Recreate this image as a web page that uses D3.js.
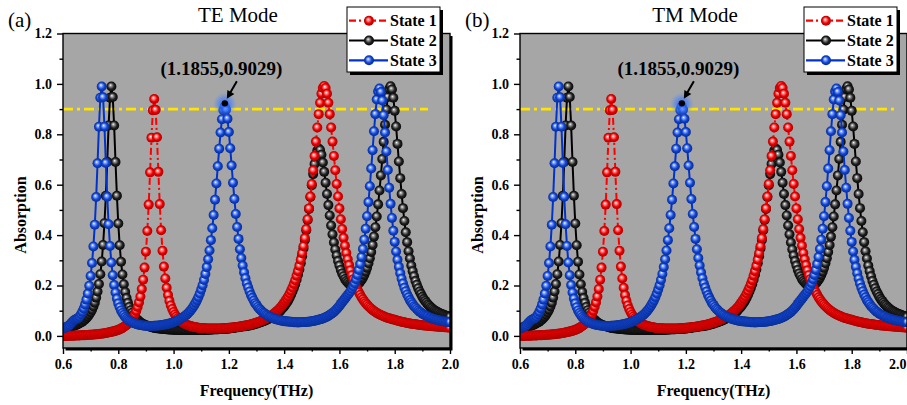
<!DOCTYPE html>
<html><head><meta charset="utf-8">
<script src="https://cdn.jsdelivr.net/npm/d3@7"></script>
<style>body{margin:0;background:#fff}svg{display:block}</style>
</head><body>
<svg id="c" width="907" height="405"></svg>
<script>
// ---------------- data ----------------
const freq = [
0.600,0.605,0.610,0.615,0.620,0.625,0.630,0.635,0.640,0.645,0.650,0.655,0.660,0.665,0.670,0.675,0.680,0.685,0.690,0.695,
0.700,0.705,0.710,0.715,0.720,0.725,0.730,0.735,0.740,0.745,0.750,0.755,0.760,0.765,0.770,0.775,0.780,0.785,0.790,0.795,
0.800,0.805,0.810,0.815,0.820,0.825,0.830,0.835,0.840,0.845,0.850,0.855,0.860,0.865,0.870,0.875,0.880,0.885,0.890,0.895,
0.900,0.905,0.910,0.915,0.920,0.925,0.930,0.935,0.940,0.945,0.950,0.955,0.960,0.965,0.970,0.975,0.980,0.985,0.990,0.995,
1.000,1.005,1.010,1.015,1.020,1.025,1.030,1.035,1.040,1.045,1.050,1.055,1.060,1.065,1.070,1.075,1.080,1.085,1.090,1.095,
1.100,1.105,1.110,1.115,1.120,1.125,1.130,1.135,1.140,1.145,1.150,1.155,1.160,1.165,1.170,1.175,1.180,1.185,1.190,1.195,
1.200,1.205,1.210,1.215,1.220,1.225,1.230,1.235,1.240,1.245,1.250,1.255,1.260,1.265,1.270,1.275,1.280,1.285,1.290,1.295,
1.300,1.305,1.310,1.315,1.320,1.325,1.330,1.335,1.340,1.345,1.350,1.355,1.360,1.365,1.370,1.375,1.380,1.385,1.390,1.395,
1.400,1.405,1.410,1.415,1.420,1.425,1.430,1.435,1.440,1.445,1.450,1.455,1.460,1.465,1.470,1.475,1.480,1.485,1.490,1.495,
1.500,1.505,1.510,1.515,1.520,1.525,1.530,1.535,1.540,1.545,1.550,1.555,1.560,1.565,1.570,1.575,1.580,1.585,1.590,1.595,
1.600,1.605,1.610,1.615,1.620,1.625,1.630,1.635,1.640,1.645,1.650,1.655,1.660,1.665,1.670,1.675,1.680,1.685,1.690,1.695,
1.700,1.705,1.710,1.715,1.720,1.725,1.730,1.735,1.740,1.745,1.750,1.755,1.760,1.765,1.770,1.775,1.780,1.785,1.790,1.795,
1.800,1.805,1.810,1.815,1.820,1.825,1.830,1.835,1.840,1.845,1.850,1.855,1.860,1.865,1.870,1.875,1.880,1.885,1.890,1.895,
1.900,1.905,1.910,1.915,1.920,1.925,1.930,1.935,1.940,1.945,1.950,1.955,1.960,1.965,1.970,1.975,1.980,1.985,1.990,1.995,
2.000];

// State 1 (red, dash-dot)
const state1 = [
0.000,0.000,0.000,0.000,0.001,0.001,0.001,0.001,0.001,0.002,
0.002,0.002,0.002,0.003,0.003,0.003,0.003,0.004,0.004,0.005,
0.005,0.005,0.006,0.006,0.007,0.007,0.008,0.009,0.009,0.010,
0.011,0.012,0.013,0.014,0.015,0.016,0.017,0.019,0.020,0.022,
0.024,0.026,0.029,0.032,0.035,0.039,0.043,0.048,0.054,0.060,
0.068,0.076,0.087,0.099,0.115,0.133,0.156,0.186,0.223,0.271,
0.334,0.416,0.521,0.649,0.786,0.895,0.940,0.897,0.788,0.651,
0.523,0.419,0.338,0.275,0.228,0.191,0.162,0.139,0.121,0.107,
0.095,0.085,0.077,0.070,0.064,0.059,0.055,0.051,0.048,0.045,
0.043,0.041,0.039,0.038,0.036,0.035,0.034,0.033,0.032,0.031,
0.031,0.030,0.030,0.030,0.029,0.029,0.029,0.029,0.029,0.029,
0.029,0.029,0.029,0.029,0.029,0.030,0.030,0.030,0.031,0.031,
0.032,0.032,0.033,0.033,0.034,0.034,0.035,0.036,0.037,0.038,
0.039,0.040,0.041,0.042,0.043,0.044,0.046,0.047,0.049,0.051,
0.053,0.054,0.056,0.059,0.061,0.063,0.066,0.069,0.072,0.075,
0.078,0.082,0.086,0.090,0.095,0.100,0.105,0.111,0.117,0.124,
0.131,0.139,0.148,0.157,0.168,0.179,0.192,0.206,0.221,0.239,
0.257,0.278,0.302,0.328,0.356,0.388,0.424,0.463,0.506,0.553,
0.603,0.657,0.714,0.771,0.827,0.880,0.925,0.961,0.984,0.992,
0.984,0.961,0.925,0.880,0.827,0.771,0.714,0.657,0.603,0.553,
0.506,0.463,0.424,0.389,0.358,0.329,0.304,0.281,0.260,0.241,
0.225,0.210,0.196,0.184,0.173,0.163,0.153,0.145,0.137,0.130,
0.124,0.118,0.113,0.108,0.103,0.099,0.095,0.092,0.088,0.085,
0.083,0.080,0.078,0.075,0.073,0.071,0.070,0.068,0.066,0.065,
0.064,0.062,0.060,0.059,0.057,0.056,0.055,0.054,0.052,0.051,
0.050,0.049,0.048,0.047,0.047,0.046,0.045,0.044,0.043,0.043,
0.042,0.041,0.041,0.040,0.040,0.039,0.039,0.038,0.038,0.037,
0.037,0.036,0.036,0.035,0.035,0.035,0.034,0.034,0.033,0.033,
0.033];

// State 2 (black, solid)
const state2 = [
0.029,0.030,0.031,0.033,0.034,0.035,0.037,0.038,0.040,0.042,
0.044,0.047,0.050,0.053,0.056,0.061,0.065,0.071,0.077,0.085,
0.094,0.104,0.117,0.132,0.152,0.176,0.206,0.245,0.295,0.361,
0.447,0.556,0.691,0.835,0.945,0.990,0.948,0.835,0.690,0.556,
0.446,0.360,0.294,0.244,0.205,0.174,0.150,0.131,0.115,0.102,
0.092,0.083,0.075,0.069,0.064,0.058,0.054,0.050,0.047,0.044,
0.042,0.040,0.038,0.036,0.035,0.033,0.032,0.031,0.030,0.030,
0.029,0.028,0.028,0.027,0.027,0.026,0.026,0.025,0.025,0.025,
0.024,0.024,0.024,0.024,0.023,0.023,0.023,0.023,0.023,0.023,
0.023,0.023,0.023,0.023,0.023,0.023,0.023,0.023,0.023,0.023,
0.023,0.023,0.023,0.024,0.024,0.024,0.025,0.025,0.025,0.026,
0.026,0.026,0.026,0.027,0.027,0.027,0.028,0.028,0.028,0.029,
0.029,0.030,0.031,0.031,0.032,0.033,0.034,0.034,0.035,0.036,
0.037,0.038,0.038,0.039,0.040,0.041,0.042,0.044,0.045,0.047,
0.048,0.050,0.052,0.054,0.056,0.058,0.060,0.063,0.065,0.068,
0.071,0.074,0.077,0.080,0.084,0.089,0.093,0.098,0.105,0.111,
0.117,0.125,0.133,0.141,0.152,0.163,0.176,0.190,0.205,0.223,
0.243,0.264,0.288,0.316,0.347,0.381,0.419,0.460,0.504,0.551,
0.598,0.642,0.682,0.715,0.736,0.744,0.738,0.719,0.688,0.651,
0.608,0.563,0.519,0.478,0.438,0.403,0.371,0.343,0.319,0.297,
0.279,0.262,0.248,0.237,0.226,0.218,0.212,0.206,0.203,0.201,
0.200,0.201,0.202,0.204,0.208,0.215,0.222,0.231,0.242,0.255,
0.270,0.288,0.308,0.333,0.361,0.394,0.431,0.474,0.522,0.577,
0.637,0.702,0.770,0.838,0.898,0.948,0.980,0.991,0.978,0.945,
0.893,0.831,0.762,0.692,0.626,0.563,0.507,0.456,0.411,0.372,
0.336,0.307,0.279,0.257,0.237,0.218,0.203,0.189,0.176,0.166,
0.155,0.146,0.139,0.132,0.125,0.120,0.114,0.110,0.105,0.101,
0.098,0.095,0.092,0.089,0.087,0.085,0.083,0.080,0.079,0.077,
0.076];

// State 3 (blue, solid)
const state3 = [
0.030,0.032,0.034,0.036,0.039,0.044,0.051,0.057,0.062,0.065,
0.068,0.071,0.077,0.086,0.096,0.109,0.125,0.144,0.168,0.199,
0.238,0.289,0.355,0.441,0.551,0.685,0.830,0.945,0.990,0.947,
0.830,0.686,0.552,0.443,0.357,0.291,0.241,0.202,0.172,0.148,
0.129,0.114,0.101,0.091,0.083,0.075,0.069,0.064,0.060,0.057,
0.054,0.051,0.049,0.047,0.045,0.044,0.043,0.042,0.041,0.040,
0.040,0.040,0.039,0.039,0.039,0.039,0.040,0.040,0.040,0.041,
0.041,0.042,0.043,0.044,0.045,0.046,0.047,0.049,0.050,0.052,
0.054,0.056,0.059,0.061,0.064,0.067,0.071,0.074,0.078,0.082,
0.087,0.093,0.099,0.106,0.114,0.122,0.132,0.142,0.154,0.168,
0.184,0.201,0.222,0.246,0.273,0.304,0.339,0.380,0.427,0.480,
0.540,0.605,0.673,0.743,0.807,0.860,0.896,0.910,0.898,0.862,
0.809,0.745,0.676,0.608,0.543,0.484,0.432,0.385,0.344,0.309,
0.279,0.252,0.229,0.208,0.192,0.176,0.162,0.151,0.140,0.130,
0.123,0.115,0.108,0.103,0.097,0.092,0.089,0.084,0.081,0.077,
0.075,0.073,0.070,0.068,0.066,0.065,0.063,0.062,0.060,0.060,
0.058,0.058,0.057,0.057,0.056,0.056,0.055,0.054,0.054,0.054,
0.053,0.054,0.054,0.055,0.055,0.055,0.055,0.056,0.056,0.057,
0.058,0.059,0.060,0.061,0.063,0.064,0.066,0.067,0.069,0.071,
0.074,0.076,0.080,0.083,0.087,0.091,0.095,0.101,0.106,0.113,
0.119,0.127,0.134,0.141,0.148,0.155,0.162,0.169,0.177,0.187,
0.197,0.209,0.225,0.242,0.262,0.285,0.313,0.345,0.382,0.425,
0.475,0.531,0.594,0.664,0.737,0.812,0.880,0.938,0.970,0.982,
0.968,0.934,0.876,0.807,0.732,0.658,0.588,0.524,0.468,0.417,
0.373,0.335,0.302,0.274,0.249,0.227,0.208,0.191,0.177,0.164,
0.153,0.142,0.134,0.126,0.118,0.113,0.107,0.101,0.096,0.093,
0.088,0.085,0.082,0.079,0.077,0.073,0.072,0.069,0.068,0.066,
0.064,0.063,0.062,0.060,0.059,0.058,0.057,0.056,0.056,0.055,
0.055];

const seriesNames = ["State 1", "State 2", "State 3"];
const panelTags = ["(a)", "(b)"];
const panelTitles = ["TE Mode", "TM Mode"];
const xTicks = [0.6, 0.8, 1.0, 1.2, 1.4, 1.6, 1.8, 2.0];
const xTickLabels = ["0.6", "0.8", "1.0", "1.2", "1.4", "1.6", "1.8", "2.0"];
const xMinorTicks = [0.7, 0.9, 1.1, 1.3, 1.5, 1.7, 1.9];
const yTicks = [0.0, 0.2, 0.4, 0.6, 0.8, 1.0, 1.2];
const yTickLabels = ["0.0", "0.2", "0.4", "0.6", "0.8", "1.0", "1.2"];
const yMinorTicks = [0.1, 0.3, 0.5, 0.7, 0.9, 1.1];
const annotPoint = [1.1855, 0.9029];
const annotLabel = "(1.1855,0.9029)";
const refLevel = 0.9;
const refLineEnd = [1.92, 1.955];
const xTitle = "Frequency(THz)";
const yTitle = "Absorption";

// ---------------- drawing ----------------
const FONT = "'Liberation Serif','Times New Roman',serif";
const W = 907;
const svg = d3.select("#c");
const defs = svg.append("defs");

const styles = [
  {values: state1, line: "#ff0000", dash: "7,3,2,3", light: "#ff9a9a", main: "#ee0000", dark: "#9a0000"},
  {values: state2, line: "#000000", dash: null,      light: "#a0a0a0", main: "#222222", dark: "#000000"},
  {values: state3, line: "#0033cc", dash: null,      light: "#8fb0ff", main: "#1044d4", dark: "#06267e"}
];
styles.forEach((s, i) => {
  const g = defs.append("radialGradient").attr("id", "ball" + i)
    .attr("cx", "50%").attr("cy", "50%").attr("r", "55%").attr("fx", "40%").attr("fy", "36%");
  g.append("stop").attr("offset", "0%").attr("stop-color", "#ffffff");
  g.append("stop").attr("offset", "20%").attr("stop-color", s.light);
  g.append("stop").attr("offset", "58%").attr("stop-color", s.main);
  g.append("stop").attr("offset", "100%").attr("stop-color", s.dark);
});
const glow = defs.append("radialGradient").attr("id", "glow");
glow.append("stop").attr("offset", "0%").attr("stop-color", "#2a66ff").attr("stop-opacity", 0.95);
glow.append("stop").attr("offset", "55%").attr("stop-color", "#3d7bff").attr("stop-opacity", 0.55);
glow.append("stop").attr("offset", "100%").attr("stop-color", "#5b8fff").attr("stop-opacity", 0);

const panelLeft = [63, 520];
const plotW = 387;
const drawOrder = [1, 0, 2];

panelLeft.forEach((px0, idx) => {
  const x = d3.scaleLinear().domain([0.6, 2.0]).range([px0, px0 + plotW]);
  const y = d3.scaleLinear().domain([-0.048, 1.2]).range([348, 33.5]);
  const L = px0, R = px0 + plotW, B = 348, T = 33.5;
  const g = svg.append("g");

  // frame shadow + background
  g.append("rect").attr("x", L + 2.5).attr("y", T + 2.5).attr("width", R - L).attr("height", B - T).attr("fill", "#000");
  g.append("rect").attr("x", L).attr("y", T).attr("width", R - L).attr("height", B - T).attr("fill", "#a6a6a6");

  defs.append("clipPath").attr("id", "clip" + idx).append("rect")
    .attr("x", L).attr("y", T).attr("width", R - L).attr("height", B - T);
  const plot = g.append("g").attr("clip-path", `url(#clip${idx})`);

  // reference level line
  plot.append("line")
    .attr("x1", x(0.6)).attr("x2", x(refLineEnd[idx]))
    .attr("y1", y(refLevel)).attr("y2", y(refLevel))
    .attr("stroke", "#ffe400").attr("stroke-width", 2.6).attr("stroke-dasharray", "10,4,3,4");

  const lineGen = d3.line().x(d => x(d[0])).y(d => y(d[1]));
  drawOrder.forEach(si => {
    const s = styles[si];
    const pts = freq.map((f, i) => [f, s.values[i]]);
    const sg = plot.append("g");
    sg.append("path").datum(pts).attr("d", lineGen).attr("fill", "none")
      .attr("stroke", s.line).attr("stroke-width", 2)
      .attr("stroke-dasharray", s.dash);
    sg.selectAll("circle").data(pts).join("circle")
      .attr("cx", d => x(d[0])).attr("cy", d => y(d[1])).attr("r", 5)
      .attr("fill", `url(#ball${si})`);
  });

  // annotation
  const ax = x(annotPoint[0]), ay = y(annotPoint[1]) - 5;
  plot.append("circle").attr("cx", ax).attr("cy", ay + 1).attr("r", 12).attr("fill", "url(#glow)");
  g.append("circle").attr("cx", ax).attr("cy", ay).attr("r", 3.2).attr("fill", "#000");
  const tip = [ax + 2, ay - 4.5], tail = [ax + 12, ay - 22];
  g.append("line").attr("x1", tail[0]).attr("y1", tail[1]).attr("x2", tip[0] + 2.2).attr("y2", tip[1] - 4)
    .attr("stroke", "#000").attr("stroke-width", 2);
  const ang = Math.atan2(tip[1] - tail[1], tip[0] - tail[0]);
  const hl = 8, hw = 4;
  const bx = tip[0] - hl * Math.cos(ang), by = tip[1] - hl * Math.sin(ang);
  g.append("path").attr("d", `M${tip[0]},${tip[1]}L${bx + hw * Math.sin(ang)},${by - hw * Math.cos(ang)}L${bx - hw * Math.sin(ang)},${by + hw * Math.cos(ang)}Z`)
    .attr("fill", "#000");
  g.append("text").attr("x", L + 158.5).attr("y", 75).attr("text-anchor", "middle")
    .attr("font-family", FONT).attr("font-weight", "bold").attr("font-size", 19).text(annotLabel);

  // border
  g.append("rect").attr("x", L).attr("y", T).attr("width", R - L).attr("height", B - T)
    .attr("fill", "none").attr("stroke", "#000").attr("stroke-width", 1.4);

  // axes
  const xa = g.append("g").attr("transform", `translate(0,${B})`)
    .call(d3.axisBottom(x).tickValues(xTicks).tickFormat((d, i) => xTickLabels[i]).tickSize(6).tickPadding(5));
  const xm = g.append("g").attr("transform", `translate(0,${B})`)
    .call(d3.axisBottom(x).tickValues(xMinorTicks).tickFormat("").tickSize(3.5));
  const ya = g.append("g").attr("transform", `translate(${L},0)`)
    .call(d3.axisLeft(y).tickValues(yTicks).tickFormat((d, i) => yTickLabels[i]).tickSize(6).tickPadding(5));
  const ym = g.append("g").attr("transform", `translate(${L},0)`)
    .call(d3.axisLeft(y).tickValues(yMinorTicks).tickFormat("").tickSize(3.5));
  [xa, xm, ya, ym].forEach(a => {
    a.select(".domain").remove();
    a.selectAll("line").attr("stroke", "#000").attr("stroke-width", 1.4);
    a.selectAll("text").attr("font-family", FONT).attr("font-weight", "bold").attr("font-size", 14).attr("fill", "#000");
  });
  // keep the last x tick label inside the picture
  xa.selectAll(".tick").filter(d => x(d) + 11 > W).select("text")
    .attr("text-anchor", "end").attr("x", d => W - 1 - x(d));

  // axis titles
  g.append("text").attr("x", (L + R) / 2).attr("y", 396).attr("text-anchor", "middle")
    .attr("font-family", FONT).attr("font-weight", "bold").attr("font-size", 16).text(xTitle);
  g.append("text").attr("transform", `translate(${L - 37},215) rotate(-90)`).attr("text-anchor", "middle")
    .attr("font-family", FONT).attr("font-weight", "bold").attr("font-size", 16).text(yTitle);

  // titles
  g.append("text").attr("x", L + 175).attr("y", 21.5).attr("text-anchor", "middle")
    .attr("font-family", FONT).attr("font-size", 21).text(panelTitles[idx]);
  g.append("text").attr("x", L - 55).attr("y", 27)
    .attr("font-family", FONT).attr("font-size", 21).text(panelTags[idx]);

  // legend
  const lx = L + 284, ly = 7, lw = 93, lh = 65;
  g.append("rect").attr("x", lx + 3).attr("y", ly + 3).attr("width", lw).attr("height", lh).attr("fill", "#000");
  g.append("rect").attr("x", lx).attr("y", ly).attr("width", lw).attr("height", lh)
    .attr("fill", "#fff").attr("stroke", "#000").attr("stroke-width", 1);
  seriesNames.forEach((name, i) => {
    const s = styles[i];
    const yy = ly + 13.7 + i * 19.8;
    g.append("line").attr("x1", lx + 2).attr("x2", lx + 41).attr("y1", yy).attr("y2", yy)
      .attr("stroke", s.line).attr("stroke-width", 2.2).attr("stroke-dasharray", s.dash);
    g.append("circle").attr("cx", lx + 22).attr("cy", yy).attr("r", 5).attr("fill", `url(#ball${i})`);
    g.append("text").attr("x", lx + 43).attr("y", yy + 5.5)
      .attr("font-family", FONT).attr("font-weight", "bold").attr("font-size", 16).text(name);
  });
});
</script>
</body></html>
